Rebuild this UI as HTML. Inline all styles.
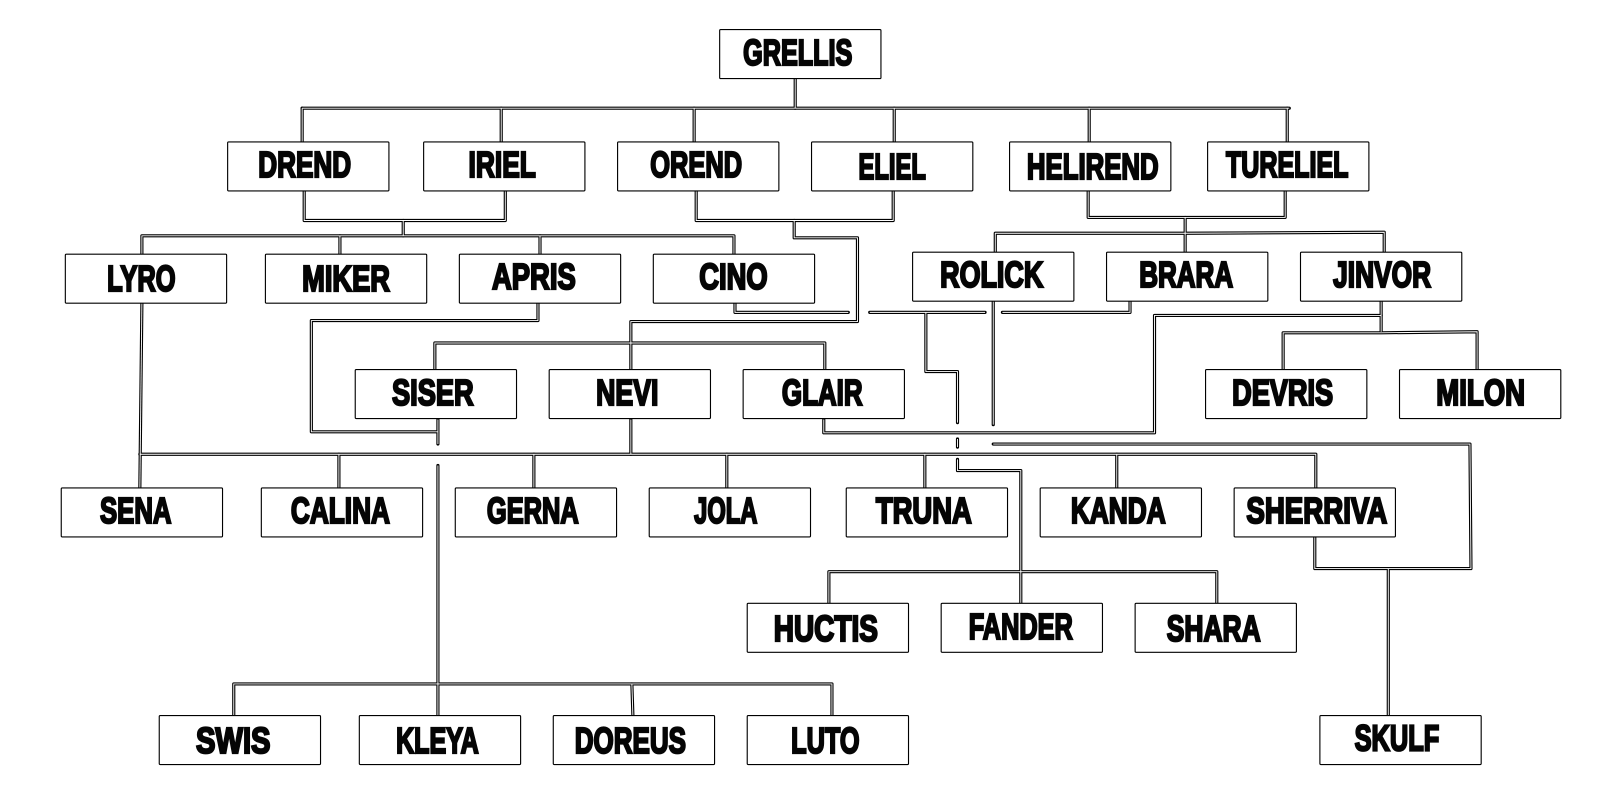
<!DOCTYPE html>
<html>
<head>
<meta charset="utf-8">
<style>
html,body{margin:0;padding:0;background:#fff;width:1600px;height:800px;overflow:hidden}
svg{display:block}
text{font-family:"Liberation Sans",sans-serif;font-weight:bold;font-size:35.5px;fill:#050505;stroke:#050505;stroke-width:2.2px;stroke-linejoin:miter}
.b rect{fill:#fff;stroke:#000;stroke-width:1.1}
.k{fill:none;stroke:#000;stroke-width:3.1;stroke-linecap:round;stroke-linejoin:round}
.w{fill:none;stroke:#fff;stroke-width:.9;stroke-linecap:butt;stroke-linejoin:miter}
</style>
</head>
<body>
<svg width="1600" height="800" viewBox="0 0 1567.4 783.7" xmlns="http://www.w3.org/2000/svg">
<defs>
<g id="c">
<path d="M779 77V106"/>
<path d="M296 106H1263"/>
<path d="M296 106V139M491 106V139M680 106V139M876 106V139M1067 106V139M1261 106V139"/>
<path d="M298 187V216H495V187"/>
<path d="M395 216V231"/>
<path d="M139 249V231H719V249"/>
<path d="M333 231V249M529 231V249"/>
<path d="M682 187V216H875V187"/>
<path d="M778 216V233H840V315H618V362"/>
<path d="M1066 187V213H1259V187"/>
<path d="M1161 213V247"/>
<path d="M975 247V228.500H1161L1356 227.500V247"/>
<path d="M527 297V314H305V423H429"/>
<path d="M429 411V435"/>
<path d="M429 456V701"/>
<path d="M229 701V670H815V701"/>
<path d="M619 670L620 701"/>
<path d="M426 362V336H808V362"/>
<path d="M618 411V445"/>
<path d="M137 445H1289V478"/>
<path d="M139 297L137 478"/>
<path d="M332 445V478M523 445V478M712 445V478M906 445V478M1094 445V478"/>
<path d="M720 297V306H831"/>
<path d="M852 306H965"/>
<path d="M982 306H1107V295"/>
<path d="M907 306V364H938V414"/>
<path d="M938 430V438"/>
<path d="M938 450V461H1000V591"/>
<path d="M812 591V560H1192V591"/>
<path d="M973 295V416"/>
<path d="M1353 295V325"/>
<path d="M1353 309H1131V424H807V411"/>
<path d="M1447 362V325L1353 326H1257V362"/>
<path d="M973 435H1440L1441 557H1288V526"/>
<path d="M1360 557V701"/>
</g>
</defs>
<g class="k"><use href="#c"/></g>
<g class="w"><use href="#c"/></g>
<g class="b">
<rect x="705" y="29" width="158" height="48" rx="1"/>
<rect x="223" y="139" width="158" height="48" rx="1"/>
<rect x="415" y="139" width="158" height="48" rx="1"/>
<rect x="605" y="139" width="158" height="48" rx="1"/>
<rect x="795" y="139" width="158" height="48" rx="1"/>
<rect x="989" y="139" width="158" height="48" rx="1"/>
<rect x="1183" y="139" width="158" height="48" rx="1"/>
<rect x="64" y="249" width="158" height="48" rx="1"/>
<rect x="260" y="249" width="158" height="48" rx="1"/>
<rect x="450" y="249" width="158" height="48" rx="1"/>
<rect x="640" y="249" width="158" height="48" rx="1"/>
<rect x="894" y="247" width="158" height="48" rx="1"/>
<rect x="1084" y="247" width="158" height="48" rx="1"/>
<rect x="1274" y="247" width="158" height="48" rx="1"/>
<rect x="348" y="362" width="158" height="48" rx="1"/>
<rect x="538" y="362" width="158" height="48" rx="1"/>
<rect x="728" y="362" width="158" height="48" rx="1"/>
<rect x="1181" y="362" width="158" height="48" rx="1"/>
<rect x="1371" y="362" width="158" height="48" rx="1"/>
<rect x="60" y="478" width="158" height="48" rx="1"/>
<rect x="256" y="478" width="158" height="48" rx="1"/>
<rect x="446" y="478" width="158" height="48" rx="1"/>
<rect x="636" y="478" width="158" height="48" rx="1"/>
<rect x="829" y="478" width="158" height="48" rx="1"/>
<rect x="1019" y="478" width="158" height="48" rx="1"/>
<rect x="1209" y="478" width="158" height="48" rx="1"/>
<rect x="732" y="591" width="158" height="48" rx="1"/>
<rect x="922" y="591" width="158" height="48" rx="1"/>
<rect x="1112" y="591" width="158" height="48" rx="1"/>
<rect x="156" y="701" width="158" height="48" rx="1"/>
<rect x="352" y="701" width="158" height="48" rx="1"/>
<rect x="542" y="701" width="158" height="48" rx="1"/>
<rect x="732" y="701" width="158" height="48" rx="1"/>
<rect x="1293" y="701" width="158" height="48" rx="1"/>
</g>
<g transform="translate(0,-1)">
<text x="728" y="64.5" textLength="107" lengthAdjust="spacingAndGlyphs">GRELLIS</text>
<text x="253" y="174.5" textLength="91" lengthAdjust="spacingAndGlyphs">DREND</text>
<text x="459" y="174.5" textLength="66" lengthAdjust="spacingAndGlyphs">IRIEL</text>
<text x="637" y="174.5" textLength="90" lengthAdjust="spacingAndGlyphs">OREND</text>
<text x="841" y="176.5" textLength="66" lengthAdjust="spacingAndGlyphs">ELIEL</text>
<text x="1006" y="176.5" textLength="129" lengthAdjust="spacingAndGlyphs">HELIREND</text>
<text x="1201" y="174.5" textLength="120" lengthAdjust="spacingAndGlyphs">TURELIEL</text>
<text x="105" y="286" textLength="67" lengthAdjust="spacingAndGlyphs">LYRO</text>
<text x="296" y="286" textLength="86" lengthAdjust="spacingAndGlyphs">MIKER</text>
<text x="482" y="284" textLength="82" lengthAdjust="spacingAndGlyphs">APRIS</text>
<text x="685" y="284" textLength="67" lengthAdjust="spacingAndGlyphs">CINO</text>
<text x="921" y="282" textLength="101" lengthAdjust="spacingAndGlyphs">ROLICK</text>
<text x="1116" y="282" textLength="92" lengthAdjust="spacingAndGlyphs">BRARA</text>
<text x="1306" y="282" textLength="96" lengthAdjust="spacingAndGlyphs">JINVOR</text>
<text x="384" y="398" textLength="80" lengthAdjust="spacingAndGlyphs">SISER</text>
<text x="584" y="398" textLength="61" lengthAdjust="spacingAndGlyphs">NEVI</text>
<text x="766" y="398" textLength="79" lengthAdjust="spacingAndGlyphs">GLAIR</text>
<text x="1207" y="398" textLength="99" lengthAdjust="spacingAndGlyphs">DEVRIS</text>
<text x="1407" y="398" textLength="87" lengthAdjust="spacingAndGlyphs">MILON</text>
<text x="98" y="513.5" textLength="70" lengthAdjust="spacingAndGlyphs">SENA</text>
<text x="285" y="513.5" textLength="97" lengthAdjust="spacingAndGlyphs">CALINA</text>
<text x="477" y="513.5" textLength="90" lengthAdjust="spacingAndGlyphs">GERNA</text>
<text x="680" y="513.5" textLength="62" lengthAdjust="spacingAndGlyphs">JOLA</text>
<text x="858" y="513.5" textLength="94" lengthAdjust="spacingAndGlyphs">TRUNA</text>
<text x="1049" y="513.5" textLength="93" lengthAdjust="spacingAndGlyphs">KANDA</text>
<text x="1221" y="513.5" textLength="138" lengthAdjust="spacingAndGlyphs">SHERRIVA</text>
<text x="758" y="629" textLength="102" lengthAdjust="spacingAndGlyphs">HUCTIS</text>
<text x="949" y="627" textLength="102" lengthAdjust="spacingAndGlyphs">FANDER</text>
<text x="1143" y="629" textLength="92" lengthAdjust="spacingAndGlyphs">SHARA</text>
<text x="192" y="738.5" textLength="73" lengthAdjust="spacingAndGlyphs">SWIS</text>
<text x="388" y="738.5" textLength="81" lengthAdjust="spacingAndGlyphs">KLEYA</text>
<text x="563" y="738.5" textLength="109" lengthAdjust="spacingAndGlyphs">DOREUS</text>
<text x="775" y="738.5" textLength="67" lengthAdjust="spacingAndGlyphs">LUTO</text>
<text x="1327" y="736" textLength="83" lengthAdjust="spacingAndGlyphs">SKULF</text>
</g>
</svg>
</body>
</html>
